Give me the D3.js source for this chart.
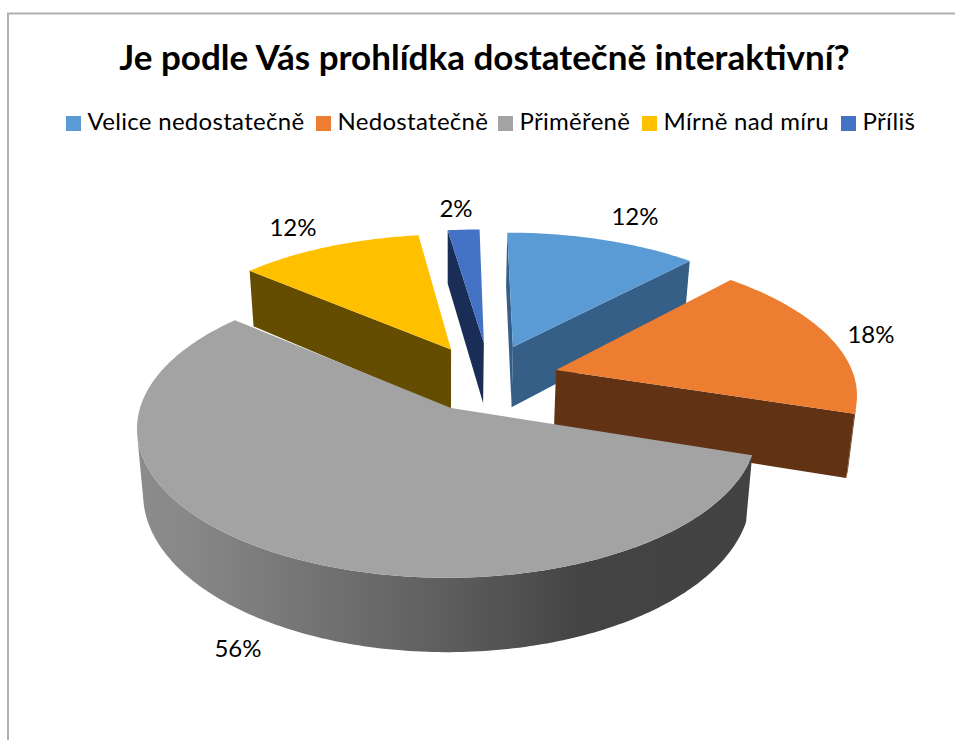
<!DOCTYPE html>
<html><head><meta charset="utf-8">
<script src="https://cdn.jsdelivr.net/npm/d3@7/dist/d3.min.js"></script>
<style>html,body{margin:0;padding:0;background:#fff}svg{display:block}text{font-family:Lato,"Noto Sans",sans-serif;fill:#000}</style>
</head><body><svg id="c" width="955" height="740"></svg>
<script>
const titleText = "Je podle Vás prohlídka dostatečně interaktivní?";
const categories = ["Velice nedostatečně","Nedostatečně","Přiměřeně","Mírně nad míru","Příliš"];
const values = [12,18,56.4,11.6,2];
const labels = ["12%","18%","56%","12%","2%"];
const topColors = ["#5b9bd5","#ed7d31","#a3a3a3","#ffc000","#4472c4"];
const wallColors = ["#355f87","#613214","url(#grayWall)","#644d00","#1a2d57"];
const explodeU = [0.236,0.3686,0,0.014,0.128];
const explodeV = [0.444,0.27,0,0.425,0.475];
const apexShiftU = [-0.008,0,0.013,0,0];
const labelX = [635,871,238,293,456];
const labelY = [225,343,657,236,217];
const legendSwatchX = [66,316,498,642,841];

const svg = d3.select("#c");
const defs = svg.append("defs");
const grad = defs.append("linearGradient").attr("id","grayWall").attr("gradientUnits","userSpaceOnUse")
  .attr("x1",137).attr("x2",752).attr("y1",0).attr("y2",0);
[[0,"#8c8c8c"],[0.08,"#888888"],[0.3,"#727272"],[0.5,"#5e5e5e"],[0.72,"#444444"],[1,"#424242"]]
  .forEach(s=>grad.append("stop").attr("offset",s[0]).attr("stop-color",s[1]));

// chart frame
const line = d3.line();
svg.append("path").attr("d",line([[8,740],[8,13.5],[955,13.5]])).attr("fill","none").attr("stroke","#b0b0b0").attr("stroke-width",2);

svg.append("text").attr("x",484.5).attr("y",70).attr("text-anchor","middle").attr("font-size",35).attr("font-weight",700).text(titleText);

categories.forEach((c,i)=>{
  svg.append("rect").attr("x",legendSwatchX[i]).attr("y",116).attr("width",15).attr("height",15).attr("fill",topColors[i]);
  svg.append("text").attr("x",legendSwatchX[i]+21.5).attr("y",130).attr("font-size",24).attr("letter-spacing",0.3).text(c);
});

// perspective projection of the pie plane
const cx=447, cy=408, A=146, B=307, k=0.14, D=64, shrinkZ=0.02;
const project=(u,v,z)=>{
  const den=1+k*v;
  return [cx+B*u/den*(1-shrinkZ*z), cy+(-A*v+D*z)/den];
};
const arcs = d3.pie().sort(null).value(d=>d)(values);
const closed = pts => line(pts)+"Z";
const order = [4,3,0,1,2];
const g = svg.append("g");
order.forEach(i=>{
  const a=arcs[i], ou=explodeU[i], ov=explodeV[i];
  const P=(r,t,z)=>project(ou+r*Math.sin(t),ov+r*Math.cos(t),z);
  const apex=z=>project(ou+apexShiftU[i],ov,z);
  const n=Math.max(4,Math.ceil((a.endAngle-a.startAngle)*60));
  const ts=d3.range(n+1).map(j=>a.startAngle+(a.endAngle-a.startAngle)*j/n);
  // cut faces (d3.polygonArea is positive when counterclockwise on screen)
  const face=t=>[apex(0),P(1,t,0),P(1,t,1),apex(1)];
  const fs=face(a.startAngle), fe=face(a.endAngle);
  if(d3.polygonArea(fs)>0) g.append("path").attr("d",closed(fs)).attr("fill",wallColors[i]);
  if(d3.polygonArea(fe)<0) g.append("path").attr("d",closed(fe)).attr("fill",wallColors[i]);
  // outer wall
  const vis=[];
  for(let j=0;j<n;j++){
    const q=[P(1,ts[j],0),P(1,ts[j+1],0),P(1,ts[j+1],1),P(1,ts[j],1)];
    if(d3.polygonArea(q)>0){ if(!vis.length) vis.push(ts[j]); vis.push(ts[j+1]); }
  }
  if(vis.length){
    const poly=vis.map(t=>P(1,t,0)).concat(vis.slice().reverse().map(t=>P(1,t,1)));
    g.append("path").attr("d",closed(poly)).attr("fill",wallColors[i]);
  }
  // top surface
  const top=[apex(0)].concat(ts.map(t=>P(1,t,0)));
  g.append("path").attr("d",closed(top)).attr("fill",topColors[i]);
});

labels.forEach((t,i)=>{
  svg.append("text").attr("x",labelX[i]).attr("y",labelY[i]).attr("text-anchor","middle").attr("font-size",24).text(t);
});
</script></body></html>
